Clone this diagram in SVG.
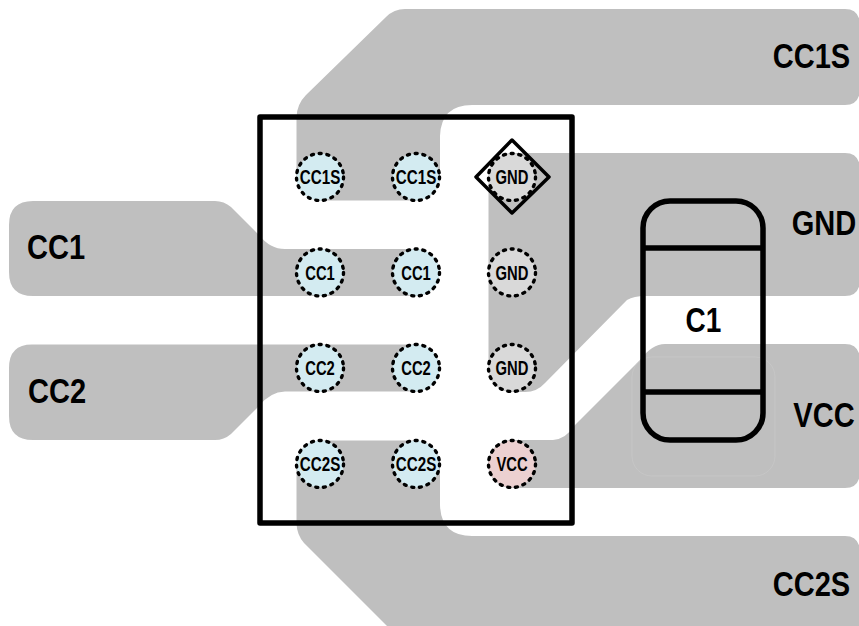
<svg xmlns="http://www.w3.org/2000/svg" width="859" height="626" viewBox="0 0 859 626">
<style>
.pad{fill:#bfbfbf;stroke:none}
.pin{stroke:#000;stroke-width:3.400;stroke-dasharray:2 5.800;stroke-linecap:round}
.sig{fill:#d3ebf1}.gnd{fill:#d9d9d9}.vcc{fill:#ecd0d0}
text{font-family:"Liberation Sans",Arial,sans-serif;font-weight:700;fill:#000;text-anchor:middle}
.s{font-size:20px}.b{font-size:35px}
.o{fill:none;stroke:#000;stroke-linejoin:round}
</style>
<rect width="859" height="626" fill="#fff"/>
<g id="connectors">
<path id="trace-cc1" class="pad" d="M33 201H215Q224 201 231 207L259 235Q270 249 285 249H416A23.500 23.500 0 0 1 416 296H33Q9 296 9 272V225Q9 201 33 201Z"/>
<path id="trace-cc2" class="pad" d="M33 344.500H416A23.500 23.500 0 0 1 416 391.500H285Q270 392 259 406L231 434Q224 440 215 440H33Q9 440 9 416V368Q9 344 33 344.500Z"/>
<path id="trace-cc1s" class="pad" d="M296.500 177V117Q297 104 306 95L386 17Q394 9 405 9H845Q859 9 860 24V90Q859 105 845 105H472Q441 105 440 136V177A23.500 23.500 0 0 1 416 200.500H320A23.500 23.500 0 0 1 296.500 177Z"/>
<path id="trace-cc2s" class="pad" d="M296.500 464A23.500 23.500 0 0 1 320 440.500H416A23.500 23.500 0 0 1 440 464V505Q441 536 472 536H845Q859 536 860 551V640H401L304 543Q297 535 296.500 524Z"/>
<path id="trace-gnd" class="pad" d="M488.500 177A23.500 23.500 0 0 1 512 153H845Q859 153 860 168V281Q859 296 845 296H645Q634 296 627 300L545 383Q537 392 525 392H512A23.500 23.500 0 0 1 488.500 368Z"/>
<path id="trace-vcc" class="pad" d="M665 344H845Q859 344 860 359V473Q859 488 845 488H512A24 24 0 0 1 512 440H553Q566 439 575 425L640 360Q652 344 665 344Z"/>
<rect x="632" y="357" width="143" height="119" rx="20" fill="none" stroke="#c6c6c6" stroke-width="1"/>
</g>
<g id="package"><rect class="o" x="260" y="117" width="312" height="406" stroke-width="5.500"/></g>
<g id="pin-cc1s-a"><circle class="pin sig" cx="320" cy="177" r="23.500"/><text class="s" transform="translate(320 183.500) scale(.76 1)">CC1S</text></g>
<g id="pin-cc1s-b"><circle class="pin sig" cx="416" cy="177" r="23.500"/><text class="s" transform="translate(416 183.500) scale(.76 1)">CC1S</text></g>
<g id="pin-gnd-a"><circle class="pin gnd" cx="512" cy="177" r="23.500"/><path class="o" d="M512 140L549 177L512 213L476 177Z" stroke-width="3.500"/><text class="s" transform="translate(512 183.500) scale(.74 1)">GND</text></g>
<g id="pin-cc1-a"><circle class="pin sig" cx="320" cy="272.500" r="23.500"/><text class="s" transform="translate(320 279.500) scale(.74 1)">CC1</text></g>
<g id="pin-cc1-b"><circle class="pin sig" cx="416" cy="272.500" r="23.500"/><text class="s" transform="translate(416 279.500) scale(.74 1)">CC1</text></g>
<g id="pin-gnd-b"><circle class="pin gnd" cx="512" cy="272.500" r="23.500"/><text class="s" transform="translate(512 279.500) scale(.74 1)">GND</text></g>
<g id="pin-cc2-a"><circle class="pin sig" cx="320" cy="368" r="23.500"/><text class="s" transform="translate(320 375) scale(.74 1)">CC2</text></g>
<g id="pin-cc2-b"><circle class="pin sig" cx="416" cy="368" r="23.500"/><text class="s" transform="translate(416 375) scale(.74 1)">CC2</text></g>
<g id="pin-gnd-c"><circle class="pin gnd" cx="512" cy="368" r="23.500"/><text class="s" transform="translate(512 375) scale(.74 1)">GND</text></g>
<g id="pin-cc2s-a"><circle class="pin sig" cx="320" cy="464" r="23.500"/><text class="s" transform="translate(320 471) scale(.76 1)">CC2S</text></g>
<g id="pin-cc2s-b"><circle class="pin sig" cx="416" cy="464" r="23.500"/><text class="s" transform="translate(416 471) scale(.76 1)">CC2S</text></g>
<g id="pin-vcc"><circle class="pin vcc" cx="512" cy="464" r="23.500"/><text class="s" transform="translate(512 471) scale(.74 1)">VCC</text></g>
<g id="c1"><rect class="o" x="643" y="201" width="120" height="239" rx="27" stroke-width="5.500"/><path class="o" d="M641 248H765M641 392H765" stroke-width="5.500"/><text class="b" transform="translate(703.500 332) scale(.8 1)">C1</text></g>
<g id="label-cc1"><text class="b" transform="translate(56 259) scale(.83 1)">CC1</text></g>
<g id="label-cc2"><text class="b" transform="translate(57 403) scale(.83 1)">CC2</text></g>
<g id="label-cc1s"><text class="b" transform="translate(811.500 68) scale(.83 1)">CC1S</text></g>
<g id="label-gnd"><text class="b" transform="translate(824 235) scale(.83 1)">GND</text></g>
<g id="label-vcc"><text class="b" transform="translate(824 427) scale(.83 1)">VCC</text></g>
<g id="label-cc2s"><text class="b" transform="translate(811.500 596) scale(.83 1)">CC2S</text></g>
</svg>
